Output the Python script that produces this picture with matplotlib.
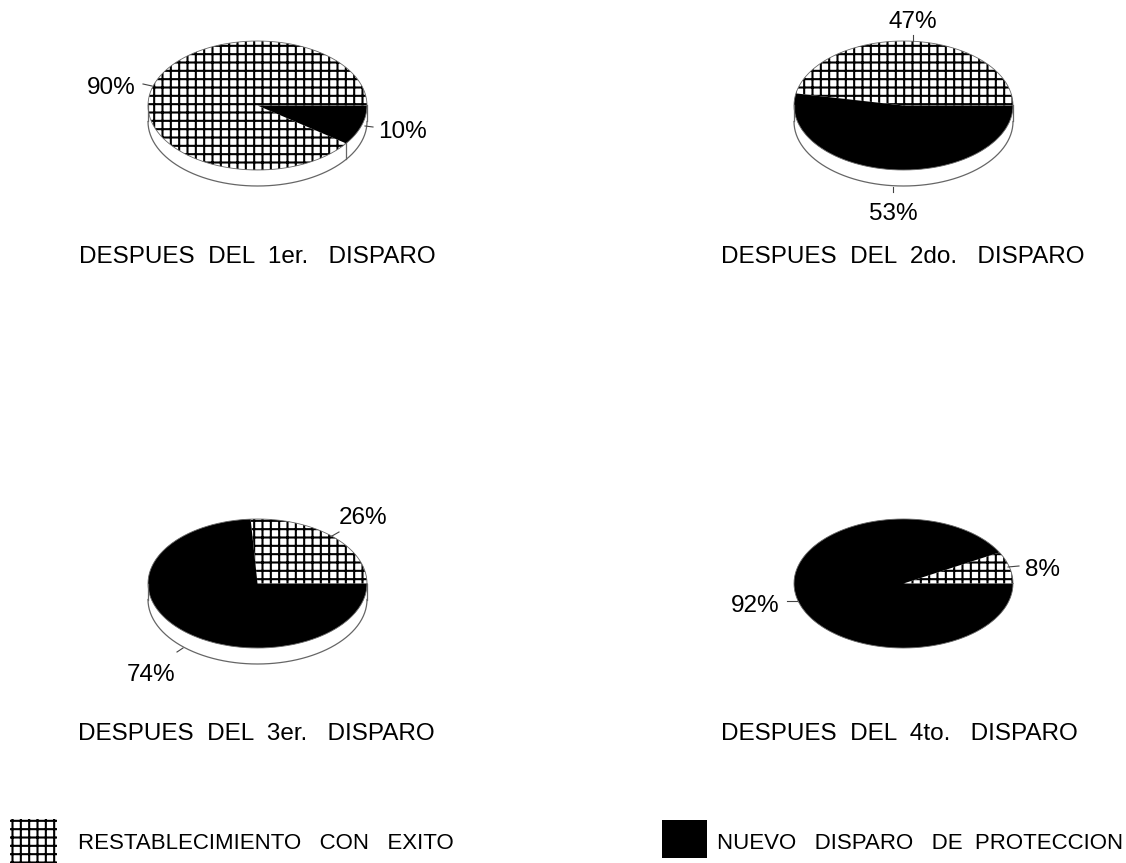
import numpy as np
import matplotlib
matplotlib.use('Agg')
import matplotlib.pyplot as plt
from matplotlib.patches import Rectangle

plt.rcParams['font.family'] = ['Liberation Sans', 'DejaVu Sans']
plt.rcParams['hatch.linewidth'] = 1.5

# percentages
exito = [90, 47, 26, 8]
nuevo_disparo = [10, 53, 74, 92]
titulos = ['DESPUES  DEL  1er.   DISPARO', 'DESPUES  DEL  2do.   DISPARO',
           'DESPUES  DEL  3er.   DISPARO', 'DESPUES  DEL  4to.   DISPARO']
leyenda = ['RESTABLECIMIENTO   CON   EXITO', 'NUEVO   DISPARO   DE  PROTECCION']

W, H = 1126, 863
RX, RY = 109.5, 64.5
BORDE = '#666666'

# layout in pixels of the picture
centros = [(257.5, 105.5), (903.5, 105.5), (257.5, 583.5), (903.5, 583.5)]
grosor = [16, 16, 16, 0]
titulo_xy = [(79, 257), (721, 257), (78, 734), (721, 734)]
# text x, text y, leader line x0, y0, x1, y1
etq_exito = [(111, 87.5, 143, 84, 152, 86), (913, 22.5, 913, 35, 913, 41),
             (363, 517.5, 339, 532, 332, 536), (1043, 569.5, 1008, 567, 1019, 566)]
etq_nuevo = [(403, 131.5, 365, 126, 373, 127), (893, 213.5, 893, 187, 893, 192),
             (151, 674.5, 183, 648, 177, 652), (755, 605.5, 787, 601, 797, 601)]

fig = plt.figure(figsize=(W / 100, H / 100), dpi=100)

# overlay in pixel coordinates for text, leaders and legend
over = fig.add_axes([0, 0, 1, 1], zorder=5)
over.set_xlim(0, W)
over.set_ylim(H, 0)
over.axis('off')
over.patch.set_alpha(0)

t = np.linspace(0, 2 * np.pi, 361)
for i in range(4):
    cx, cy = centros[i]
    margen = 1.4
    ax = fig.add_axes([(cx - RX * margen) / W, 1 - (cy + RY * margen) / H,
                       2 * RX * margen / W, 2 * RY * margen / H])
    d = grosor[i] / RY
    # side of the cylinder
    if d > 0:
        lado = t[180:]
        ax.plot(np.cos(lado), np.sin(lado) - d, color=BORDE, lw=0.9)
        ax.plot([-1, -1], [0, -d], color=BORDE, lw=0.9)
        ax.plot([1, 1], [0, -d], color=BORDE, lw=0.9)
        fin = np.deg2rad(exito[i] * 3.6)
        if np.sin(fin) < 0:
            ax.plot([np.cos(fin)] * 2, [np.sin(fin), np.sin(fin) - d], color=BORDE, lw=0.9)
    wedges, _ = ax.pie([exito[i], nuevo_disparo[i]], startangle=0, counterclock=True, radius=1,
                       colors=['white', 'black'])
    wedges[0].set_hatch('++')
    wedges[0].set_edgecolor('black')
    wedges[0].set_linewidth(0)
    wedges[1].set_edgecolor('black')
    wedges[1].set_linewidth(0)
    ax.plot(np.cos(t), np.sin(t), color=BORDE, lw=0.6)
    ax.set_aspect('auto')
    ax.set_xlim(-margen, margen)
    ax.set_ylim(-margen, margen)

    over.text(titulo_xy[i][0], titulo_xy[i][1], titulos[i], fontsize=17.5, va='center', ha='left', color='black')
    for etq, val in ((etq_exito[i], exito[i]), (etq_nuevo[i], nuevo_disparo[i])):
        over.text(etq[0], etq[1], f'{val}%', fontsize=17.5, ha='center', va='center', color='black')
        over.plot([etq[2], etq[4]], [etq[3], etq[5]], color='#444444', lw=0.8)

# legend
over.add_patch(Rectangle((10, 819), 47, 44, facecolor='white', edgecolor='black', linewidth=0, hatch='++'))
over.add_patch(Rectangle((662, 820), 45, 38, facecolor='black', edgecolor='black', linewidth=0))
over.text(78, 843.5, leyenda[0], fontsize=16, va='center', ha='left')
over.text(717, 843.5, leyenda[1], fontsize=16, va='center', ha='left')

fig.savefig('out.png', dpi=100)
